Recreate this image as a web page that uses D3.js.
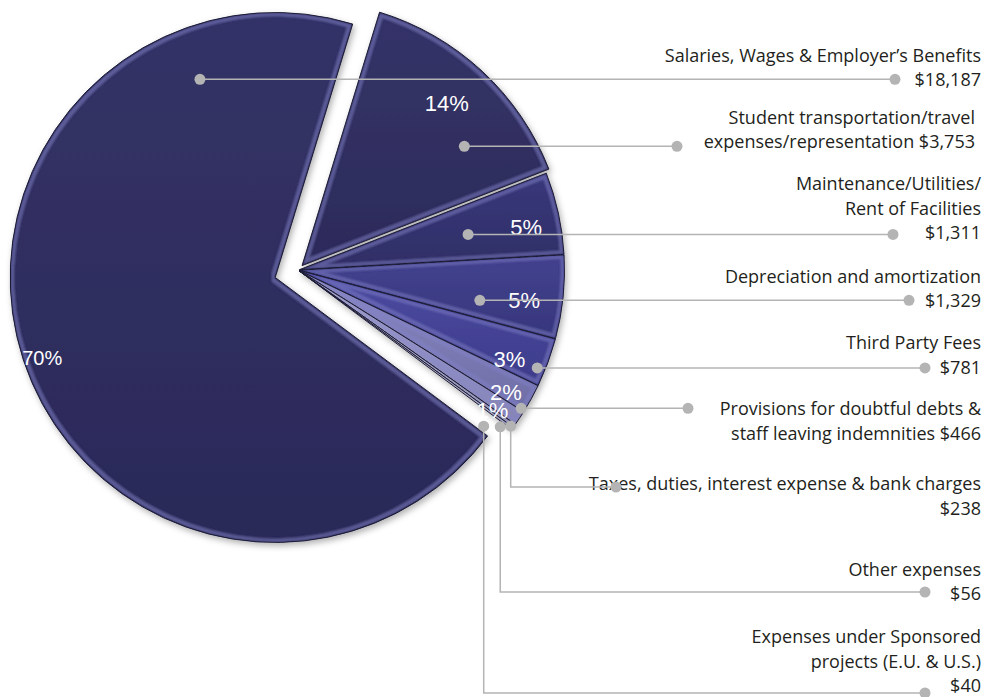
<!DOCTYPE html>
<html>
<head>
<meta charset="utf-8">
<script src="https://cdn.jsdelivr.net/npm/d3@7"></script>
<style>
  body { margin: 0; background: #fff; }
  .lbl { font-family: "Open Sans", "Noto Sans", sans-serif; font-size: 18px; fill: #231f20; }
  .pct { font-family: "Liberation Sans", Arial, sans-serif; fill: #fff; }
</style>
</head>
<body>
<div id="chart"></div>
<script>
// expense categories (thousands), in the order they are labelled on the right
var categories = [
  "Salaries, Wages & Employer’s Benefits",
  "Student transportation/travel expenses/representation",
  "Maintenance/Utilities/Rent of Facilities",
  "Depreciation and amortization",
  "Third Party Fees",
  "Provisions for doubtful debts & staff leaving indemnities",
  "Taxes, duties, interest expense & bank charges",
  "Other expenses",
  "Expenses under Sponsored projects (E.U. & U.S.)"
];
var values = [18187, 3753, 1311, 1329, 781, 466, 238, 56, 40];

// how the label text is broken into lines, {v} = formatted amount
var labelLines = [
  ["Salaries, Wages & Employer’s Benefits", "{v}"],
  ["Student transportation/travel", "expenses/representation {v}"],
  ["Maintenance/Utilities/", "Rent of Facilities", "{v}"],
  ["Depreciation and amortization", "{v}"],
  ["Third Party Fees", "{v}"],
  ["Provisions for doubtful debts &", "staff leaving indemnities {v}"],
  ["Taxes, duties, interest expense & bank charges", "{v}"],
  ["Other expenses", "{v}"],
  ["Expenses under Sponsored", "projects (E.U. & U.S.)", "{v}"]
];

// ---- layout / styling ----
var width = 989, height = 697;
var cx = 298, cy = 270, R = 265;
var rotation = 17 * Math.PI / 180;        // where slice #2 starts
var explode = [24, 6, 1.5, 1.5, 1.5, 1.5, 1.5, 1.5, 1.5];
var sliceColors = [
  ["#333267", "#2b2a58"],
  ["#343368", "#2c2b5a"],
  ["#39387c", "#2f2e65"],
  ["#43428f", "#37367c"],
  ["#4c4ba2", "#3d3c8a"],
  ["#8a89c0", "#6e6da6"],
  ["#a4a3cc", "#8584b2"],
  ["#b4b4d0", "#9393b4"],
  ["#c2c2d8", "#a0a0bc"]
];
// leader anchor inside slice: fraction of the slice angle, fraction of radius
var anchorFrac = [0.849, 0.71, 0.53, 0.70, 0.68, 0.95, 1.27, 3.1, 7.1];
var anchorR = [0.80, 0.76, 0.65, 0.69, 0.97, 0.985, 0.99, 0.96, 0.91];
// percent label: angle shift (deg) from slice middle, radius fraction, size
var pctShift = [-0.9, -1.1, 1.8, 1.8, 2.5, 1.6, 2.1];
var pctR = [0.93, 0.82, 0.87, 0.855, 0.86, 0.905, 0.9];
var pctSize = [20, 22, 22, 22, 22, 22, 22];
var dotX = [895, 677, 893, 909, 925, 688, 616, 925, 925];
var elbowY = [null, null, null, null, null, null, 487, 592, 693];
var textRight = [981, 975, 981, 981, 981, 981, 981, 981, 981];
var alignLine = [1, 1, 2, 1, 1, 0, 0, 1, 2];
var textDy = [0, -5, -2, 0, -1, 0, -4, 1, -8];
var lineH = 24.5;
var leaderColor = "#b4b4b4";

var total = d3.sum(values);
var fmtMoney = d3.format("$,");
var fmtPct = d3.format(".0%");
var startA = rotation - 2 * Math.PI * values[0] / total;

var pie = d3.pie().sort(null).value(function(d) { return d; })
  .startAngle(startA).endAngle(startA + 2 * Math.PI);
var arcs = pie(values);
var arc = d3.arc().innerRadius(0).outerRadius(R);

var svg = d3.select("#chart").append("svg")
  .attr("width", width)
  .attr("height", height);

var defs = svg.append("defs");

var shadow = defs.append("filter").attr("id", "shadow")
  .attr("x", "-10%").attr("y", "-10%").attr("width", "130%").attr("height", "130%");
shadow.append("feDropShadow").attr("dx", 2).attr("dy", 3)
  .attr("stdDeviation", 3).attr("flood-color", "#000").attr("flood-opacity", 0.3);

// light rim just inside the dark outline of every slice (bevel look)
var bevel = defs.append("filter").attr("id", "bevel")
  .attr("x", "-5%").attr("y", "-5%").attr("width", "110%").attr("height", "110%");
bevel.append("feMorphology").attr("in", "SourceAlpha").attr("operator", "erode")
  .attr("radius", 1).attr("result", "er1");
bevel.append("feMorphology").attr("in", "SourceAlpha").attr("operator", "erode")
  .attr("radius", 4).attr("result", "er4");
bevel.append("feComposite").attr("in", "er1").attr("in2", "er4")
  .attr("operator", "out").attr("result", "ring");
bevel.append("feGaussianBlur").attr("in", "ring").attr("stdDeviation", 1.3).attr("result", "ringb");
bevel.append("feFlood").attr("flood-color", "#8584d0").attr("flood-opacity", 0.4).attr("result", "fl");
bevel.append("feComposite").attr("in", "fl").attr("in2", "ringb").attr("operator", "in").attr("result", "hl");
bevel.append("feComposite").attr("in", "hl").attr("in2", "er1").attr("operator", "in").attr("result", "hl2");
var merge = bevel.append("feMerge");
merge.append("feMergeNode").attr("in", "SourceGraphic");
merge.append("feMergeNode").attr("in", "hl2");

sliceColors.forEach(function(c, i) {
  var g = defs.append("linearGradient").attr("id", "grad" + i)
    .attr("x1", 0).attr("y1", 0).attr("x2", 0).attr("y2", 1);
  g.append("stop").attr("offset", "0%").attr("stop-color", c[0]);
  g.append("stop").attr("offset", "100%").attr("stop-color", c[1]);
});

function offsetOf(d, i) {
  var mid = (d.startAngle + d.endAngle) / 2;
  return d3.pointRadial(mid, explode[i]);
}

var pieGroup = svg.append("g")
  .attr("transform", "translate(" + cx + "," + cy + ")")
  .attr("filter", "url(#shadow)");

pieGroup.selectAll("path.slice")
  .data(arcs)
  .enter()
  .append("path")
  .attr("class", "slice")
  .attr("d", arc)
  .attr("transform", function(d, i) {
    var o = offsetOf(d, i);
    return "translate(" + o[0] + "," + o[1] + ")";
  })
  .attr("fill", function(d, i) { return "url(#grad" + i + ")"; })
  .attr("stroke", "#1c1b36")
  .attr("stroke-width", 1)
  .attr("filter", "url(#bevel)");

// percent labels
var chartGroup = svg.append("g").attr("transform", "translate(" + cx + "," + cy + ")");

chartGroup.selectAll("text.pct")
  .data(arcs.filter(function(d) { return d.value / total >= 0.005; }))
  .enter()
  .append("text")
  .attr("class", "pct")
  .attr("text-anchor", "middle")
  .attr("dominant-baseline", "central")
  .style("font-size", function(d) { return pctSize[d.index] + "px"; })
  .attr("x", function(d) {
    var i = d.index, o = offsetOf(d, i);
    var a = (d.startAngle + d.endAngle) / 2 + pctShift[i] * Math.PI / 180;
    return o[0] + d3.pointRadial(a, R * pctR[i])[0];
  })
  .attr("y", function(d) {
    var i = d.index, o = offsetOf(d, i);
    var a = (d.startAngle + d.endAngle) / 2 + pctShift[i] * Math.PI / 180;
    return o[1] + d3.pointRadial(a, R * pctR[i])[1];
  })
  .text(function(d) { return fmtPct(d.value / total); });

// anchor points in slices (absolute coords)
var anchors = arcs.map(function(d, i) {
  var o = offsetOf(d, i);
  var a = d.startAngle + (d.endAngle - d.startAngle) * anchorFrac[i];
  var p = d3.pointRadial(a, R * anchorR[i]);
  return [cx + o[0] + p[0], cy + o[1] + p[1]];
});

// right side labels
var labelGroup = svg.append("g");
arcs.forEach(function(d, i) {
  var ly = elbowY[i] != null ? elbowY[i] : anchors[i][1];
  var t = labelGroup.append("text")
    .attr("class", "lbl")
    .attr("text-anchor", "end")
    .attr("dominant-baseline", "central");
  labelLines[i].forEach(function(line, k) {
    t.append("tspan")
      .attr("x", textRight[i])
      .attr("y", ly + textDy[i] + (k - alignLine[i]) * lineH)
      .text(line.replace("{v}", fmtMoney(values[i])));
  });
});

// leader lines with dots
var leaderGroup = svg.append("g");
arcs.forEach(function(d, i) {
  var a = anchors[i];
  var pts;
  if (elbowY[i] != null) {
    pts = [a, [a[0], elbowY[i]], [dotX[i], elbowY[i]]];
  } else {
    pts = [a, [dotX[i], a[1]]];
  }
  leaderGroup.append("path")
    .attr("d", d3.line()(pts))
    .attr("fill", "none")
    .attr("stroke", leaderColor)
    .attr("stroke-width", 1.5);
  leaderGroup.append("circle")
    .attr("cx", a[0]).attr("cy", a[1]).attr("r", 5.5)
    .attr("fill", leaderColor);
  leaderGroup.append("circle")
    .attr("cx", pts[pts.length - 1][0]).attr("cy", pts[pts.length - 1][1]).attr("r", 5.5)
    .attr("fill", leaderColor);
});
</script>
</body>
</html>
